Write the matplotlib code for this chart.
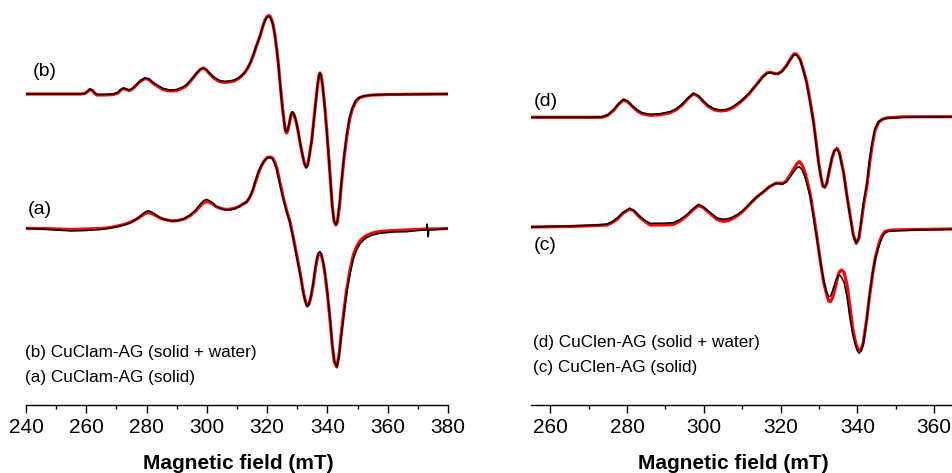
import matplotlib
matplotlib.use("Agg")
import matplotlib.pyplot as plt
from matplotlib.ticker import MultipleLocator

plt.rcParams['font.family'] = ['Liberation Sans', 'DejaVu Sans']

# ---- left panel: CuClam-AG, spectra (mT, arbitrary intensity) ----
fieldB = [240, 258, 259.5, 260.3, 261.2, 262, 262.7, 263.5, 266, 269,
          270.5, 271.5, 272.3, 273.2, 274.3, 275.3, 276.5, 278, 279.5, 280.8,
          282, 283.5, 285.5, 287.8, 290, 292, 293.3, 295, 296.6, 297.8,
          298.8, 299.8, 301, 302.1, 303.3, 304.4, 306, 307.5, 309, 310.5,
          311.5, 312.5, 313.5, 314.5, 315.4, 316.5, 317.6, 318.5, 319.3, 320,
          320.5, 321, 321.5, 322, 322.6, 323.2, 323.7, 324.3, 324.8, 325.3,
          325.7, 326, 326.4, 326.8, 327.4, 327.9, 328.4, 328.9, 329.5, 330.2,
          331, 331.8, 332.4, 332.9, 333.4, 334, 334.8, 335.5, 336.2, 336.8,
          337.2, 337.5, 337.9, 338.4, 339.2, 340, 340.9, 341.6, 342.2, 342.8,
          343.3, 344, 344.7, 345.5, 346.4, 347.3, 348.2, 349.5, 350.8, 352.5,
          355, 360, 380]
expB = [0, 0, 0.5, 2.5, 5, 4, 1.5, -0.5, -0.5, 0,
        1.5, 4.5, 6, 5, 4, 5.5, 9, 13.5, 16, 15,
        12, 9, 5.5, 4, 4.5, 7, 9.3, 15, 21, 24.5,
        26, 24.5, 20.5, 17.6, 15, 13.3, 12.6, 13, 14, 16,
        18.5, 21.5, 26, 32, 39, 49, 57.6, 67, 73.6, 77,
        77.6, 76.5, 73.5, 68.5, 58, 44, 30, 10, -6, -20,
        -29, -35, -37.7, -36, -28, -20, -17.7, -20, -26, -36,
        -50, -62, -70, -74, -72, -62, -46, -26, -6, 10,
        18, 20.7, 19, 8, -16, -46, -83, -112, -127, -131,
        -127, -110, -86, -62, -40, -24, -14, -6, -3, -1.8,
        -1, -0.5, 0]
fitB = [0, 0, 0.5, 2, 4.5, 3.5, 1, -1, -1, -0.5,
        1, 4, 5.5, 4.5, 3.5, 5, 8.5, 13, 15.5, 14.5,
        11, 8, 4.5, 3, 3.5, 6, 8.5, 14.5, 20.5, 24.5,
        26, 24, 20, 16.5, 14, 12.3, 11.6, 12, 13, 15.5,
        18, 21, 25.5, 31.5, 38.5, 48.5, 57.5, 67, 74, 77.5,
        78.5, 77.5, 74, 69, 58.5, 44.5, 31, 11, -5, -19.5,
        -29, -36, -39, -37, -29, -21, -18.5, -20.5, -26, -36,
        -50, -62, -70, -73, -71.5, -62, -46, -26, -5.5, 10.5,
        18.5, 21, 19, 8.5, -15, -45, -82, -112, -127, -131,
        -128, -112, -88, -64, -43, -26, -15.5, -7, -3.5, -2,
        -1, -0.5, 0]

fieldA = [240, 245, 250, 255, 260, 265, 268, 270.5, 272.5, 274.5,
          276.5, 278.3, 279.5, 280.6, 281.7, 283, 284.5, 286, 288.3, 290.5,
          292.5, 294.5, 296.3, 297.8, 299, 300, 301, 302, 303, 304.2,
          305.5, 306.6, 308, 309.5, 311, 312.3, 313.2, 314.3, 315.3, 316.2,
          317.1, 318, 319, 320, 321, 321.8, 322.6, 323.2, 324.2, 325.4,
          326.5, 327.6, 328.7, 329.8, 331, 332, 332.7, 333.3, 333.9, 334.6,
          335.3, 336, 336.6, 337.1, 337.5, 338, 338.6, 339.2, 340, 340.9,
          341.6, 342.3, 343.1, 343.8, 344.7, 345.6, 346.4, 347.5, 348.6, 349.7,
          350.8, 352, 353, 355, 357.5, 362, 366.3, 370, 372.8, 373.1,
          373.4, 373.7, 376, 380]
expA = [0.7, 0, -1, -2, -1.5, -0.5, 1, 2.5, 4, 6,
        9.5, 14, 17, 18.3, 17, 14.5, 11.5, 9.5, 8, 8.5,
        10.5, 14, 19, 25, 28.5, 29.7, 28, 26, 23, 21,
        19.5, 19, 19.3, 20.5, 23, 25.5, 27.3, 32, 40, 49,
        57.3, 63, 68, 71, 71.7, 70, 65, 59, 45, 29,
        17, 6, -10, -27.7, -46, -64.3, -73, -77.7, -75, -66,
        -54, -38, -28, -23.5, -22.7, -25, -33, -44, -64, -91,
        -115, -132, -137.7, -128, -104, -82, -64, -45, -30, -21,
        -15, -11, -8.7, -6, -4.3, -3, -2.7, -1.5, -1, 5,
        -7.7, -1, -0.5, 0.5]
fitA = [0.5, 0.5, 0, -0.5, 0, 0.5, 1.5, 3, 4.5, 6.5,
        9.5, 13, 15.5, 16.5, 15.5, 13.5, 11, 9.5, 8, 8.5,
        10, 13.5, 18, 23, 26.5, 27.5, 26.5, 25, 22.5, 21,
        20, 19.5, 20, 21, 23, 25.5, 27, 32, 39, 48,
        56, 62.5, 68, 71.5, 72, 71, 66.5, 61, 47, 31,
        18, 7, -9, -26, -45, -63, -72.5, -77, -75, -67,
        -55, -40, -29.5, -24.5, -24, -26, -34, -45, -65, -92,
        -116, -133, -138, -127, -102, -79, -60, -41, -26, -17.5,
        -12, -8.5, -6.5, -4, -2.5, -1.5, -1, -0.5, 0, 0,
        0, 0, 0, 0.5]

# ---- right panel: CuClen-AG ----
fieldD = [255, 270, 273.5, 275, 276.5, 277.8, 279.1, 280.2, 281.5, 282.8,
          284, 286, 288.5, 291.2, 292.8, 294.3, 295.8, 297.3, 298.6, 300,
          301.3, 302.7, 304.3, 306, 307.5, 309, 310.5, 312, 313.8, 315.3,
          316.5, 317.3, 318.3, 319.3, 320.3, 321.5, 322.5, 323.5, 324.2, 325.1,
          325.9, 326.8, 327.7, 328.6, 329.9, 330.5, 331, 331.5, 332, 332.5,
          333.4, 334, 334.7, 335.3, 336.4, 337.3, 338.1, 338.9, 339.7, 340.4,
          341, 341.6, 342.5, 343.2, 343.8, 344.6, 345.5, 346.5, 347.7, 352,
          365]
expD = [0, 0, 0.5, 2.5, 7.5, 13.5, 18, 16, 11, 7,
        4.5, 3, 3.5, 5.6, 8.5, 13, 19, 24, 21.5, 16,
        11.5, 8.5, 7.3, 8, 10.5, 14.5, 19, 25, 33, 40,
        44, 44.6, 43.7, 43.3, 45.5, 51, 57.5, 62.5, 62, 57,
        47, 34, 15, -6, -46, -60, -69, -70, -66, -56,
        -40, -33.5, -32, -36, -56, -80, -99, -118, -126, -120,
        -103, -85, -65, -42, -26, -11, -4.4, -2, -1, 0,
        0.6]
fitD = [0, 0, 0, 2, 7, 13, 17.5, 15.5, 10.5, 6,
        3.5, 2, 2.5, 4.5, 7.5, 12, 18.5, 23.5, 21, 15,
        10.5, 7.5, 6.3, 7, 9.5, 13.5, 18.5, 24.5, 33, 40.5,
        44.5, 45, 44, 43.5, 46, 51.5, 58, 63.5, 63, 58,
        48, 35, 16, -5, -45, -59.5, -68.5, -70, -66.5, -57,
        -40.5, -33.5, -31, -35, -55, -79, -98, -117, -126, -121,
        -105, -88, -68, -45, -29, -13, -5, -2, -0.5, 0.5,
        0.6]

fieldC = [255, 265, 272, 274.8, 276.2, 277.5, 279, 280.7, 281.8, 283,
          284.5, 286, 289, 292.1, 293.8, 295.5, 297, 298.6, 299.8, 301.5,
          303.5, 305.1, 306.5, 307.5, 309, 310.3, 312, 313.8, 315.5, 317,
          318.6, 319.5, 320.4, 321.5, 322.5, 323.5, 324.3, 324.9, 325.6, 326.3,
          327, 327.7, 328.6, 329.5, 330.3, 331.2, 331.9, 332.5, 333, 333.5,
          334.3, 335, 335.3, 335.8, 336.5, 337.3, 338, 338.8, 339.5, 340,
          340.5, 341, 341.5, 342.4, 343.2, 344, 344.6, 345.3, 345.9, 346.5,
          347.2, 348, 349.4, 355, 364.6]
expC = [0, 1, 2, 3, 5.5, 9, 14.5, 18.7, 16.5, 12,
        7, 3.7, 3.8, 4.3, 7.5, 12, 17.5, 22.7, 20.5, 15,
        9, 7.7, 8.5, 10, 13, 17, 23.5, 30, 35.3, 40,
        43.3, 43.5, 42.7, 45, 50, 55.5, 59.5, 60.3, 57, 50,
        41, 30.3, 9, -13, -33, -53, -64, -69.7, -69, -64,
        -54, -48.5, -48, -50, -55, -70, -90, -108, -118, -124,
        -126.3, -124, -118, -94, -66, -45, -33, -23, -16, -10,
        -6, -4.5, -4, -3, -2.3]
fitC = [0, 0.5, 1.5, 2, 4.5, 8, 14, 18, 16, 11,
        6, 2, 2, 2.5, 6, 11, 16.5, 21.5, 19.5, 14,
        7.5, 5.5, 6.5, 8.5, 12, 16, 23, 30, 35, 40,
        43.5, 44, 43.5, 46, 52, 58.5, 63.5, 65.3, 62, 55,
        45, 33, 12, -11, -33, -55, -66, -74, -74.5, -71,
        -60, -48, -45, -43, -45, -58, -78, -102, -115, -121,
        -123, -122, -116, -93, -68, -46, -32, -21, -13, -8,
        -4.5, -3.5, -3, -2.5, -2]

# vertical offsets of the stacked spectra
offB, offA = 311, 176
offD, offC = 287.7, 178

fig = plt.figure(figsize=(9.52, 4.73), dpi=100)
axL = fig.add_axes([26 / 952, 1 - 405 / 473, 422 / 952, 405 / 473])
axR = fig.add_axes([531 / 952, 1 - 405 / 473, 421 / 952, 405 / 473])


def shift(vals, off):
    return [v + off for v in vals]


def draw(ax, field, exp, fit, off):
    # red = simulation underneath, black = experiment on top
    ax.plot(field, shift(fit, off), color='#ff0000', lw=2.3,
            solid_joinstyle='round', solid_capstyle='round')
    ax.plot(field, shift(exp, off), color='black', lw=1.1, solid_joinstyle='round')


draw(axL, fieldB, expB, fitB, offB)
draw(axL, fieldA, expA, fitA, offA)
draw(axR, fieldD, expD, fitD, offD)
draw(axR, fieldC, expC, fitC, offC)

axL.set_xlim(240, 380)
axR.set_xlim(255, 255 + 421 / 3.84)

for ax in (axL, axR):
    ax.set_ylim(0, 405)
    ax.set_yticks([])
    for s in ('top', 'left', 'right'):
        ax.spines[s].set_visible(False)
    ax.spines['bottom'].set_linewidth(1.0)
    ax.xaxis.set_major_locator(MultipleLocator(20))
    ax.xaxis.set_minor_locator(MultipleLocator(10))
    ax.tick_params(axis='x', which='major', direction='out', length=5.5, width=1.0,
                   labelsize=15, pad=4)
    ax.tick_params(axis='x', which='minor', direction='out', length=3, width=1.0)
    ax.patch.set_alpha(0)

axL.text(242.3, 333, "(b)", fontsize=14, va='center', ha='left')
axL.text(240.7, 196, "(a)", fontsize=14, va='center', ha='left')
axL.text(239.7, 53, "(b) CuClam-AG (solid + water)", fontsize=12.3, va='center', ha='left')
axL.text(239.7, 28, "(a) CuClam-AG (solid)", fontsize=12.3, va='center', ha='left')

axR.text(255.8, 303.5, "(d)", fontsize=14, va='center', ha='left')
axR.text(255.6, 160, "(c)", fontsize=14, va='center', ha='left')
axR.text(255.5, 62.5, "(d) CuClen-AG (solid + water)", fontsize=12.3, va='center', ha='left')
axR.text(255.5, 37.5, "(c) CuClen-AG (solid)", fontsize=12.3, va='center', ha='left')

fig.text(238 / 952, 1 - 463 / 473, "Magnetic field (mT)", fontsize=15, fontweight='bold',
         ha='center', va='center')
fig.text(733.5 / 952, 1 - 463 / 473, "Magnetic field (mT)", fontsize=15, fontweight='bold',
         ha='center', va='center')

fig.savefig("out.png", dpi=100)
